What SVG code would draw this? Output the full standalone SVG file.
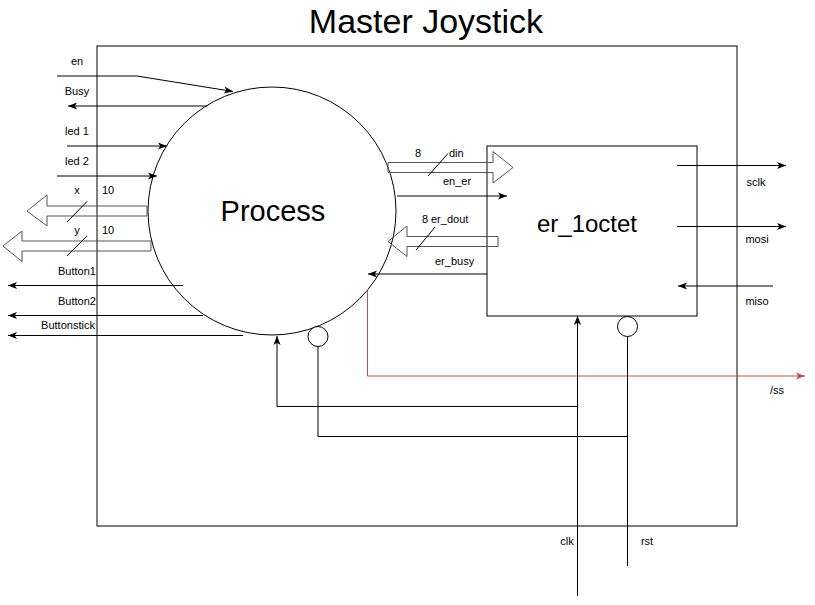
<svg xmlns="http://www.w3.org/2000/svg" width="815" height="605" viewBox="0 0 815 605">
<defs>
<style>
.t{font-family:"Liberation Sans",Arial,sans-serif;font-size:11px;fill:#000}
.c{text-anchor:middle}
.ln{fill:none;stroke:#000;stroke-width:1}
.bus{fill:none;stroke:#555;stroke-width:1}
.shape{fill:none;stroke:#000;stroke-width:1}
</style>
<marker id="a" viewBox="0 0 10 10" refX="10" refY="5" markerWidth="9" markerHeight="9" orient="auto" markerUnits="userSpaceOnUse">
<path d="M0,1 L10,5 L0,9 L2.5,5 z" fill="#000"/>
</marker>
<marker id="ar" viewBox="0 0 10 10" refX="10" refY="5" markerWidth="9" markerHeight="9" orient="auto" markerUnits="userSpaceOnUse">
<path d="M0,1 L10,5 L0,9 L2.5,5 z" fill="#b85450"/>
</marker>
</defs>
<rect width="815" height="605" fill="#fff"/>

<g id="master">
<rect x="97" y="46" width="640" height="480" class="shape"/>
<text x="426" y="33" class="c" style="font-family:'Liberation Sans',Arial,sans-serif;font-size:34px">Master Joystick</text>
</g>

<g id="process">
<circle cx="272" cy="211" r="124" class="shape"/>
<text x="273" y="221" class="c" style="font-family:'Liberation Sans',Arial,sans-serif;font-size:29px">Process</text>
</g>
<g id="process-rst">
<circle cx="318" cy="336.5" r="10" fill="#fff" stroke="#000"/>
</g>

<g id="er_1octet">
<rect x="487" y="146" width="210" height="170" class="shape"/>
<text x="587" y="232" class="c" style="font-family:'Liberation Sans',Arial,sans-serif;font-size:24px">er_1octet</text>
</g>
<g id="er-rst">
<circle cx="627.5" cy="326.5" r="10" fill="#fff" stroke="#000"/>
</g>

<g id="connectors">
<polyline points="57,76 137,76 233,91.5" class="ln" marker-end="url(#a)"/>
<line x1="207" y1="106" x2="68" y2="106" class="ln" marker-end="url(#a)"/>
<line x1="67" y1="146" x2="167" y2="146" class="ln" marker-end="url(#a)"/>
<line x1="57" y1="176" x2="157" y2="176" class="ln" marker-end="url(#a)"/>
<polygon points="147,206 47,206 47,195 27,211 47,226 47,216 147,216" class="bus"/>
<line x1="67" y1="222" x2="87" y2="201.5" class="ln"/>
<polygon points="151,241 22,241 22,231 3,246 22,261.5 22,251 151,251" class="bus"/>
<line x1="67" y1="256" x2="87" y2="236" class="ln"/>
<line x1="183" y1="285.5" x2="8" y2="285.5" class="ln" marker-end="url(#a)"/>
<line x1="203" y1="315.5" x2="8" y2="315.5" class="ln" marker-end="url(#a)"/>
<line x1="243" y1="335.5" x2="8" y2="335.5" class="ln" marker-end="url(#a)"/>

<polygon points="388,162.5 493,162.5 493,151.5 513,167.5 493,183 493,172.5 388,172.5" class="bus"/>
<line x1="428" y1="176" x2="448" y2="153.5" class="ln"/>
<line x1="397" y1="196" x2="507" y2="196" class="ln" marker-end="url(#a)"/>
<polygon points="498,236.5 407,236.5 407,226 388,241.5 407,256.5 407,246.5 498,246.5" class="bus"/>
<line x1="416" y1="250" x2="435" y2="227" class="ln"/>
<line x1="487" y1="274" x2="368" y2="274" class="ln" marker-end="url(#a)"/>

<line x1="677" y1="165.5" x2="786" y2="165.5" class="ln" marker-end="url(#a)"/>
<line x1="677" y1="226.5" x2="786" y2="226.5" class="ln" marker-end="url(#a)"/>
<line x1="773" y1="286" x2="678" y2="286" class="ln" marker-end="url(#a)"/>
<polyline points="367.5,290 367.5,376 805,376" fill="none" stroke="#b85450" stroke-width="1" marker-end="url(#ar)"/>

<line x1="577.5" y1="596" x2="577.5" y2="316" class="ln" marker-end="url(#a)"/>
<polyline points="577.5,406.5 277,406.5 277,336" class="ln" marker-end="url(#a)"/>
<line x1="627.5" y1="336.5" x2="627.5" y2="566" class="ln"/>
<polyline points="627.5,436.5 318,436.5 318,346.5" class="ln"/>
</g>

<g id="labels">
<text x="77" y="65" class="t c">en</text>
<text x="77" y="95" class="t c">Busy</text>
<text x="77" y="135" class="t c">led 1</text>
<text x="77" y="165" class="t c">led 2</text>
<text x="77" y="194" class="t c">x</text>
<text x="102" y="194" class="t">10</text>
<text x="77" y="234" class="t c">y</text>
<text x="102" y="234" class="t">10</text>
<text x="77" y="275" class="t c">Button1</text>
<text x="77" y="305" class="t c">Button2</text>
<text x="68" y="329" class="t c">Buttonstick</text>
<text x="418" y="157" class="t c">8</text>
<text x="449" y="157" class="t">din</text>
<text x="443" y="185" class="t">en_er</text>
<text x="425" y="223" class="t c">8</text>
<text x="431" y="223" class="t">er_dout</text>
<text x="435" y="265" class="t">er_busy</text>
<text x="756" y="186" class="t c">sclk</text>
<text x="757" y="243" class="t c">mosi</text>
<text x="757" y="305" class="t c">miso</text>
<text x="777" y="394" class="t c">/ss</text>
<text x="567" y="545" class="t c">clk</text>
<text x="647" y="545" class="t c">rst</text>
</g>
</svg>
